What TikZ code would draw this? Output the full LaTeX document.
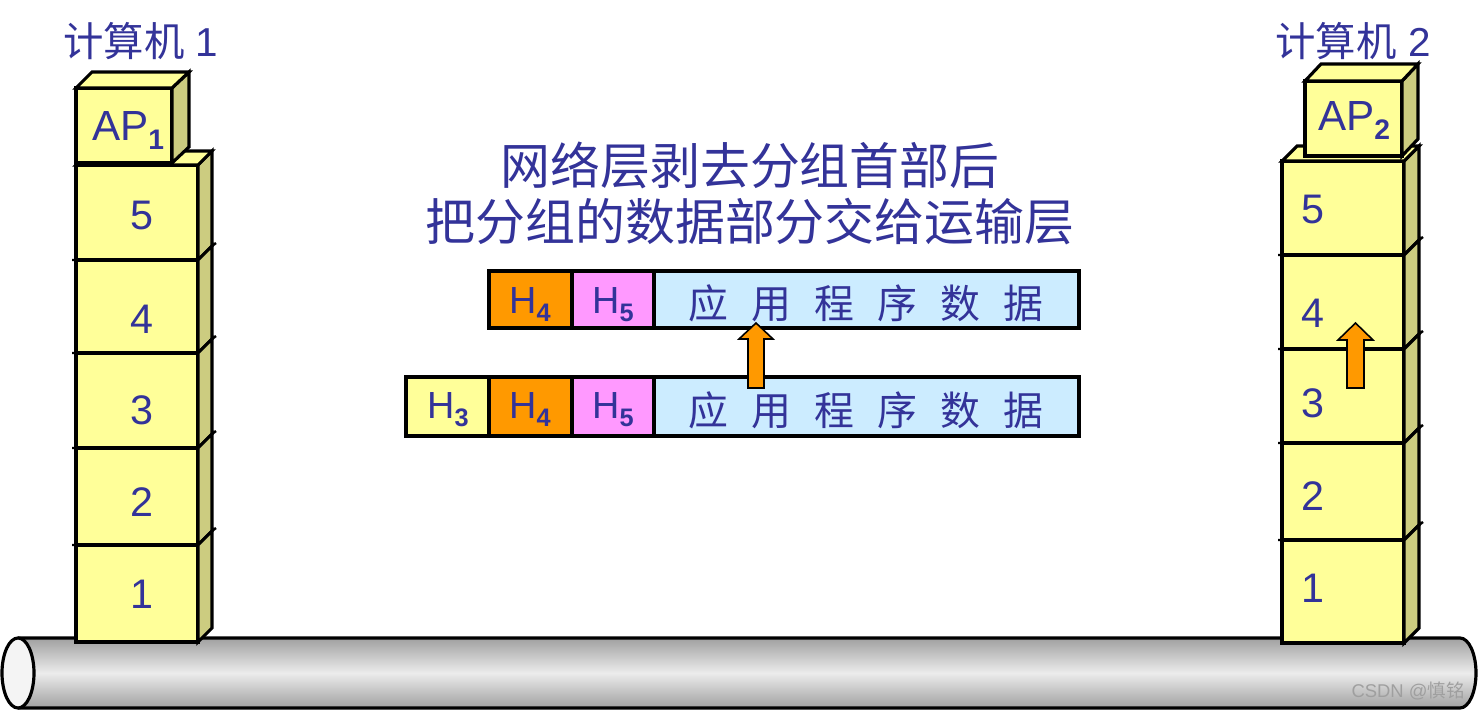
\documentclass[tikz,border=0pt]{standalone}
\usepackage{fontspec}
\setmainfont{Liberation Sans}
\newfontfamily\cjk{Noto Sans CJK SC}
\definecolor{layeryellow}{RGB}{255,255,153}
\definecolor{layerside}{RGB}{204,204,128}
\definecolor{hdrorange}{RGB}{255,153,0}
\definecolor{hdrpink}{RGB}{255,153,255}
\definecolor{datablue}{RGB}{204,236,255}
\definecolor{textblue}{RGB}{51,51,153}
\definecolor{pipedark}{RGB}{160,160,160}
\definecolor{pipelight}{RGB}{236,236,236}
\newcommand{\sbs}[1]{\raisebox{-0.22em}{\scalebox{0.67}{\bfseries #1}}}
\newcommand{\gp}{\hspace{0.58em}}

\begin{document}
\begin{tikzpicture}[x=0.02cm,y=-0.02cm,
  edge/.style={draw=black,line width=1.8pt},
  lbl/.style={text=textblue,inner sep=0pt},
  numlbl/.style={lbl,anchor=base,font=\fontsize{23.5}{26}\selectfont},
  hdrlbl/.style={lbl,anchor=base,font=\fontsize{21.5}{24}\selectfont},
  datalbl/.style={lbl,font=\cjk\fontsize{22.7}{25}\selectfont},
  msglbl/.style={lbl,font=\cjk\fontsize{28.4}{32}\selectfont},
  blockarrow/.style={fill=hdrorange,draw=black,line width=0.9pt}]
\useasboundingbox (0,0) rectangle (1478,710);

% bus
\shade[top color=pipedark,bottom color=pipedark,middle color=pipelight] (18,638) -- (1460,638) arc[start angle=-90,end angle=90,x radius=16,y radius=35] -- (18,708) -- cycle;
\draw[edge] (18,638) -- (1460,638) arc[start angle=-90,end angle=90,x radius=16,y radius=35] -- (18,708);
\filldraw[edge,fill=pipelight!60!white] (18,673) ellipse[x radius=16,y radius=35];
\node[text=gray!75,font=\fontsize{10.5}{12}\selectfont] (mark) at (1408,691) {CSDN @{\cjk 慎铭}};

% computer 1
\foreach \t/\b in {165/260,260/353,353/448,448/545,545/642}{
  \filldraw[edge,fill=layeryellow] (76,\t) rectangle (198,\b);
  \filldraw[edge,fill=layerside] (198,\t) -- (212,\t-14) -- (212,\b-14) -- (198,\b) -- cycle;
}
\foreach \y in {260,353,448,545}
  \draw[line width=1.4pt] (72,\y) -- (76,\y) (212,\y-14) -- (216,\y-17);
\filldraw[edge,fill=layeryellow] (76,165) -- (90,151) -- (212,151) -- (198,165) -- cycle;
\filldraw[edge,fill=layeryellow] (76,88) rectangle (172,163);
\filldraw[edge,fill=layerside] (172,88) -- (189,72) -- (189,147) -- (172,163) -- cycle;
\filldraw[edge,fill=layeryellow] (76,88) -- (92,72) -- (189,72) -- (172,88) -- cycle;
\node[lbl,anchor=base,font=\fontsize{24}{26}\selectfont] (ap1) at (128,140) {AP\sbs{1}};
\foreach \n/\y in {5/229,4/333,3/424,2/516,1/608}
  \node[numlbl] (left\n) at (142,\y) {\n};
\node[lbl,font=\fontsize{23}{26}\selectfont] (pc1) at (141,41) {{\cjk 计算机} 1};

% computer 2
\foreach \t/\b in {161/255,255/349,349/443,443/540,540/643}{
  \filldraw[edge,fill=layeryellow] (1282,\t) rectangle (1404,\b);
  \filldraw[edge,fill=layerside] (1404,\t) -- (1419,\t-15) -- (1419,\b-15) -- (1404,\b) -- cycle;
}
\foreach \y in {255,349,443,540}
  \draw[line width=1.4pt] (1278,\y) -- (1282,\y) (1419,\y-15) -- (1423,\y-18);
\filldraw[edge,fill=layeryellow] (1282,161) -- (1297,146) -- (1419,146) -- (1404,161) -- cycle;
\filldraw[edge,fill=layeryellow] (1305,81) rectangle (1402,156);
\filldraw[edge,fill=layerside] (1402,81) -- (1418,64) -- (1418,139) -- (1402,156) -- cycle;
\filldraw[edge,fill=layeryellow] (1305,81) -- (1321,64) -- (1418,64) -- (1402,81) -- cycle;
\node[lbl,anchor=base,font=\fontsize{24}{26}\selectfont] (ap2) at (1354,130) {AP\sbs{2}};
\foreach \n/\y in {5/223,4/327,3/417,2/510,1/602}
  \node[numlbl] (right\n) at (1313,\y) {\n};
\node[lbl,font=\fontsize{23}{26}\selectfont] (pc2) at (1353,41) {{\cjk 计算机} 2};
\draw[blockarrow] (1347,388) -- (1347,340) -- (1338,340) -- (1355.5,323) -- (1373,340) -- (1364,340) -- (1364,388) -- cycle;

% message
\node[msglbl] (msg1) at (750,165) {网络层剥去分组首部后};
\node[msglbl] (msg2) at (750,222) {把分组的数据部分交给运输层};

% packets
\foreach \l/\r/\c in {489/572/hdrorange,572/654/hdrpink,654/1079/datablue}
  \filldraw[edge,fill=\c] (\l,271) rectangle (\r,328);
\foreach \l/\r/\c in {406/489/layeryellow,489/572/hdrorange,572/654/hdrpink,654/1079/datablue}
  \filldraw[edge,fill=\c] (\l,377) rectangle (\r,436);
\node[hdrlbl] (h4top) at (530,313) {H\sbs{4}};
\node[hdrlbl] (h5top) at (613,313) {H\sbs{5}};
\node[datalbl] (datatop) at (866,303) {应\gp 用\gp 程\gp 序\gp 数\gp 据};
\node[hdrlbl] (h3bot) at (448,418) {H\sbs{3}};
\node[hdrlbl] (h4bot) at (530,418) {H\sbs{4}};
\node[hdrlbl] (h5bot) at (613,418) {H\sbs{5}};
\node[datalbl] (databot) at (866,410) {应\gp 用\gp 程\gp 序\gp 数\gp 据};
\draw[blockarrow] (748,388) -- (748,339) -- (739,339) -- (756,323) -- (773,339) -- (764,339) -- (764,388) -- cycle;
\end{tikzpicture}
\end{document}
